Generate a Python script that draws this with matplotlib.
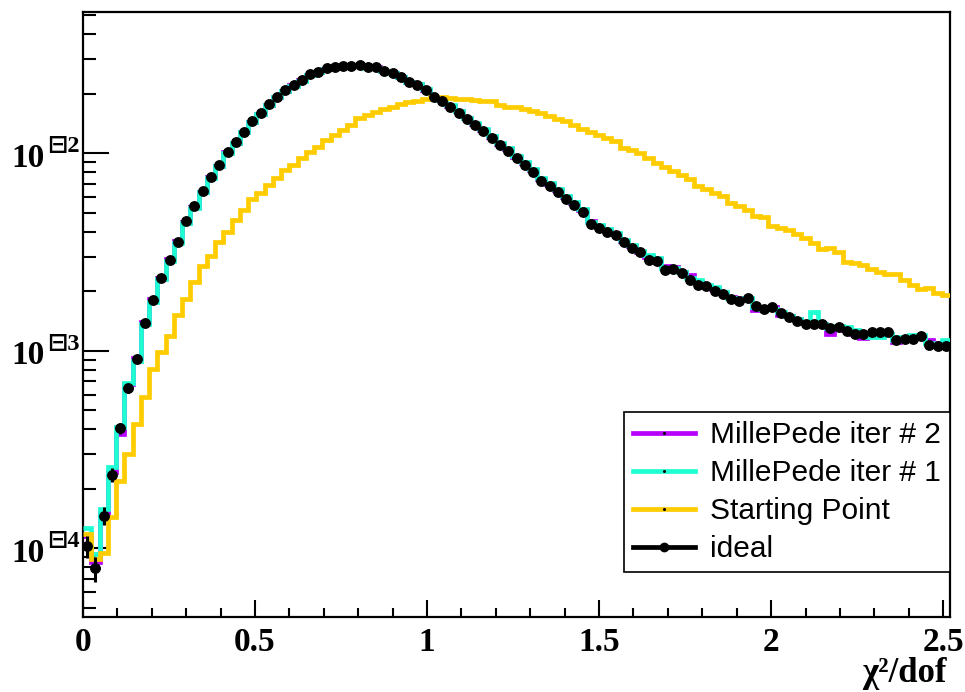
import numpy as np
import matplotlib
matplotlib.use("Agg")
import matplotlib.pyplot as plt
from matplotlib.lines import Line2D
from matplotlib.ticker import LogLocator, NullFormatter, MultipleLocator, FixedLocator, FixedFormatter
import matplotlib.transforms as mtransforms

# Histogram binning of chi2/dof
X_MIN, X_MAX, N_BINS = 0.0, 2.52, 105
N_ENTRIES = 600000  # entries in the reference sample (for Poisson errors)

ideal = [
    1.02e-4, 7.9e-5, 1.46e-4, 2.35e-4, 4.04e-4, 6.46e-4, 9.08e-4, 1.39e-3, 1.80e-3, 2.34e-3,
    2.89e-3, 3.56e-3, 4.52e-3, 5.38e-3, 6.43e-3, 7.59e-3, 8.69e-3, 1.01e-2, 1.14e-2, 1.29e-2,
    1.45e-2, 1.60e-2, 1.77e-2, 1.93e-2, 2.09e-2, 2.22e-2, 2.35e-2, 2.52e-2, 2.59e-2, 2.70e-2,
    2.75e-2, 2.78e-2, 2.78e-2, 2.80e-2, 2.73e-2, 2.73e-2, 2.61e-2, 2.54e-2, 2.43e-2, 2.29e-2,
    2.22e-2, 2.09e-2, 1.92e-2, 1.84e-2, 1.72e-2, 1.61e-2, 1.49e-2, 1.39e-2, 1.30e-2, 1.19e-2,
    1.10e-2, 1.03e-2, 9.44e-3, 8.73e-3, 8.07e-3, 7.24e-3, 6.83e-3, 6.39e-3, 5.84e-3, 5.47e-3,
    5.06e-3, 4.38e-3, 4.20e-3, 4.01e-3, 3.86e-3, 3.54e-3, 3.30e-3, 3.15e-3, 2.88e-3, 2.86e-3,
    2.56e-3, 2.58e-3, 2.48e-3, 2.28e-3, 2.15e-3, 2.13e-3, 2.01e-3, 1.93e-3, 1.83e-3, 1.79e-3,
    1.84e-3, 1.69e-3, 1.63e-3, 1.67e-3, 1.55e-3, 1.48e-3, 1.42e-3, 1.36e-3, 1.36e-3, 1.37e-3,
    1.31e-3, 1.32e-3, 1.26e-3, 1.21e-3, 1.21e-3, 1.24e-3, 1.24e-3, 1.24e-3, 1.14e-3, 1.15e-3,
    1.15e-3, 1.19e-3, 1.07e-3, 1.06e-3, 1.06e-3,
]

starting_point = [
    1.18e-4, 8.8e-5, 9.5e-5, 1.43e-4, 2.18e-4, 3.00e-4, 4.26e-4, 5.86e-4, 8.05e-4, 9.87e-4,
    1.19e-3, 1.51e-3, 1.83e-3, 2.23e-3, 2.68e-3, 3.02e-3, 3.56e-3, 4.01e-3, 4.61e-3, 5.18e-3,
    5.85e-3, 6.30e-3, 6.91e-3, 7.50e-3, 8.23e-3, 8.72e-3, 9.47e-3, 1.02e-2, 1.08e-2, 1.17e-2,
    1.24e-2, 1.31e-2, 1.39e-2, 1.51e-2, 1.56e-2, 1.62e-2, 1.68e-2, 1.72e-2, 1.78e-2, 1.82e-2,
    1.85e-2, 1.88e-2, 1.92e-2, 1.92e-2, 1.90e-2, 1.88e-2, 1.88e-2, 1.86e-2, 1.85e-2, 1.85e-2,
    1.76e-2, 1.72e-2, 1.72e-2, 1.67e-2, 1.63e-2, 1.60e-2, 1.55e-2, 1.49e-2, 1.45e-2, 1.39e-2,
    1.33e-2, 1.28e-2, 1.24e-2, 1.19e-2, 1.15e-2, 1.07e-2, 1.04e-2, 1.00e-2, 9.5e-3, 8.9e-3,
    8.5e-3, 8.15e-3, 7.75e-3, 7.40e-3, 6.80e-3, 6.57e-3, 6.27e-3, 6.08e-3, 5.58e-3, 5.41e-3,
    5.16e-3, 4.81e-3, 4.74e-3, 4.28e-3, 4.17e-3, 4.09e-3, 3.90e-3, 3.71e-3, 3.50e-3, 3.26e-3,
    3.32e-3, 3.18e-3, 2.83e-3, 2.79e-3, 2.72e-3, 2.61e-3, 2.51e-3, 2.46e-3, 2.44e-3, 2.28e-3,
    2.15e-3, 2.05e-3, 2.07e-3, 1.97e-3, 1.91e-3,
]

millepede_iter1 = [
    1.26e-4, 9.3e-5, 1.57e-4, 2.59e-4, 4.10e-4, 6.90e-4, 8.90e-4, 1.36e-3, 1.76e-3, 2.30e-3,
    2.85e-3, 3.52e-3, 4.45e-3, 5.30e-3, 6.35e-3, 7.50e-3, 8.60e-3, 1.00e-2, 1.13e-2, 1.28e-2,
    1.44e-2, 1.59e-2, 1.76e-2, 1.92e-2, 2.07e-2, 2.20e-2, 2.33e-2, 2.49e-2, 2.57e-2, 2.68e-2,
    2.73e-2, 2.76e-2, 2.76e-2, 2.78e-2, 2.72e-2, 2.72e-2, 2.61e-2, 2.55e-2, 2.44e-2, 2.31e-2,
    2.24e-2, 2.11e-2, 1.94e-2, 1.86e-2, 1.75e-2, 1.64e-2, 1.51e-2, 1.42e-2, 1.33e-2, 1.22e-2,
    1.13e-2, 1.06e-2, 9.70e-3, 9.00e-3, 8.30e-3, 7.50e-3, 7.05e-3, 6.60e-3, 6.05e-3, 5.65e-3,
    5.20e-3, 4.50e-3, 4.35e-3, 4.15e-3, 3.95e-3, 3.62e-3, 3.42e-3, 3.20e-3, 3.05e-3, 2.95e-3,
    2.62e-3, 2.62e-3, 2.52e-3, 2.35e-3, 2.28e-3, 2.16e-3, 2.10e-3, 1.98e-3, 1.86e-3, 1.83e-3,
    1.84e-3, 1.66e-3, 1.62e-3, 1.62e-3, 1.58e-3, 1.50e-3, 1.45e-3, 1.40e-3, 1.58e-3, 1.37e-3,
    1.30e-3, 1.33e-3, 1.32e-3, 1.27e-3, 1.20e-3, 1.18e-3, 1.18e-3, 1.22e-3, 1.13e-3, 1.17e-3,
    1.20e-3, 1.20e-3, 1.10e-3, 1.08e-3, 1.13e-3,
]

millepede_iter2 = [
    1.15e-4, 8.5e-5, 1.50e-4, 2.42e-4, 3.80e-4, 6.80e-4, 9.20e-4, 1.40e-3, 1.82e-3, 2.33e-3,
    2.90e-3, 3.60e-3, 4.50e-3, 5.35e-3, 6.40e-3, 7.55e-3, 8.65e-3, 1.01e-2, 1.13e-2, 1.28e-2,
    1.44e-2, 1.59e-2, 1.76e-2, 1.92e-2, 2.08e-2, 2.21e-2, 2.34e-2, 2.50e-2, 2.58e-2, 2.69e-2,
    2.74e-2, 2.77e-2, 2.77e-2, 2.79e-2, 2.73e-2, 2.73e-2, 2.62e-2, 2.55e-2, 2.44e-2, 2.31e-2,
    2.24e-2, 2.10e-2, 1.94e-2, 1.86e-2, 1.74e-2, 1.63e-2, 1.51e-2, 1.41e-2, 1.32e-2, 1.21e-2,
    1.12e-2, 1.05e-2, 9.60e-3, 8.95e-3, 8.25e-3, 7.45e-3, 7.00e-3, 6.55e-3, 6.00e-3, 5.60e-3,
    5.15e-3, 4.55e-3, 4.30e-3, 4.10e-3, 3.92e-3, 3.60e-3, 3.38e-3, 3.18e-3, 2.98e-3, 2.92e-3,
    2.68e-3, 2.66e-3, 2.50e-3, 2.42e-3, 2.22e-3, 2.14e-3, 2.06e-3, 1.96e-3, 1.88e-3, 1.85e-3,
    1.82e-3, 1.60e-3, 1.64e-3, 1.66e-3, 1.52e-3, 1.50e-3, 1.44e-3, 1.40e-3, 1.38e-3, 1.36e-3,
    1.22e-3, 1.30e-3, 1.28e-3, 1.22e-3, 1.16e-3, 1.22e-3, 1.22e-3, 1.22e-3, 1.11e-3, 1.14e-3,
    1.18e-3, 1.17e-3, 1.14e-3, 1.10e-3, 1.08e-3,
]

labels = ["MillePede iter # 2", "MillePede iter # 1", "Starting Point", "ideal"]
x_tick_values = [0, 0.5, 1, 1.5, 2, 2.5]
x_tick_labels = ["0", "0.5", "1", "1.5", "2", "2.5"]
y_decades = [-2, -3, -4]

COL_ITER2 = "#b800ff"
COL_ITER1 = "#1effd2"
COL_START = "#ffcc00"

edges = np.linspace(X_MIN, X_MAX, N_BINS + 1)
centers = 0.5 * (edges[:-1] + edges[1:])
half_w = 0.5 * (edges[1] - edges[0])
ideal_arr = np.array(ideal)
ideal_err = np.sqrt(ideal_arr / N_ENTRIES)

SERIF = "Liberation Serif"
SANS = "Liberation Sans"

fig = plt.figure(figsize=(9.65, 6.92), dpi=100)
ax = fig.add_axes([83 / 965, 75 / 692, 867 / 965, 605 / 692])

hist_lw = 3.4
ax.stairs(millepede_iter2, edges, baseline=None, color=COL_ITER2, lw=hist_lw, zorder=2)
ax.stairs(millepede_iter1, edges, baseline=None, color=COL_ITER1, lw=hist_lw, zorder=3)
ax.stairs(starting_point, edges, baseline=None, color=COL_START, lw=hist_lw, zorder=4)
ax.errorbar(centers, ideal_arr, xerr=half_w, yerr=ideal_err, fmt="o", color="black",
            ms=6.8, elinewidth=2.2, capsize=0, zorder=5)

ax.set_yscale("log")
ax.set_xlim(X_MIN, X_MAX)
ax.set_ylim(4.48e-5, 5.2e-2)

# x axis ticks
ax.xaxis.set_major_locator(FixedLocator(x_tick_values))
ax.xaxis.set_major_formatter(FixedFormatter(x_tick_labels))
ax.xaxis.set_minor_locator(MultipleLocator(0.1))
ax.tick_params(axis="x", which="major", direction="in", length=12.5, width=1.5,
               top=False, pad=7, labelsize=24)
ax.tick_params(axis="x", which="minor", direction="in", length=6.5, width=1.5, top=False)
for lab in ax.get_xticklabels():
    lab.set_fontfamily(SERIF)
    lab.set_fontweight("bold")

# y axis ticks
ax.yaxis.set_major_locator(LogLocator(base=10, numticks=20))
ax.yaxis.set_minor_locator(LogLocator(base=10, subs=np.arange(2, 10), numticks=20))
ax.yaxis.set_major_formatter(NullFormatter())
ax.yaxis.set_minor_formatter(NullFormatter())
ax.tick_params(axis="y", which="major", direction="in", length=19, width=1.5, right=False)
ax.tick_params(axis="y", which="minor", direction="in", length=9.5, width=1.5, right=False)

for sp in ax.spines.values():
    sp.set_linewidth(1.6)

# decade labels on the y axis
ytrans = mtransforms.blended_transform_factory(ax.transAxes, ax.transData)
for d in y_decades:
    ax.annotate("10", xy=(0, 10.0 ** d), xycoords=ytrans, xytext=(-27.5, -3.6),
                textcoords="offset points", ha="right", va="center",
                fontsize=24, fontweight="bold", family=SERIF, annotation_clip=False)
    ax.annotate("\u229f" + str(abs(d)), xy=(0, 10.0 ** d), xycoords=ytrans,
                xytext=(-26, 4.8), textcoords="offset points", ha="left", va="center",
                fontsize=17.5, fontweight="bold", family=[SERIF, "DejaVu Sans"],
                annotation_clip=False)

# axis title
fig.text(947 / 965, 1 - 682 / 692, "\u03c7\u00b2/dof", ha="right", va="baseline",
         fontsize=25, fontweight="bold", family=SERIF)

handles = [
    Line2D([], [], color=COL_ITER2, lw=hist_lw, marker="o", ms=1.2, mfc="black", mec="black"),
    Line2D([], [], color=COL_ITER1, lw=hist_lw, marker="o", ms=1.2, mfc="black", mec="black"),
    Line2D([], [], color=COL_START, lw=hist_lw, marker="o", ms=1.2, mfc="black", mec="black"),
    Line2D([], [], color="black", lw=hist_lw, marker="o", ms=6),
]
leg = ax.legend(handles, labels, loc="upper right",
                bbox_to_anchor=(1.0, (617 - 412) / 605), bbox_transform=ax.transAxes,
                borderaxespad=0, frameon=True, fancybox=False, framealpha=1,
                edgecolor="black", prop={"family": SANS, "size": 21.5},
                handlelength=2.1, handletextpad=0.5, labelspacing=0.34, borderpad=0.3)
leg.get_frame().set_linewidth(1.2)
leg.set_zorder(10)

fig.savefig("out.png", dpi=100, facecolor="white")
